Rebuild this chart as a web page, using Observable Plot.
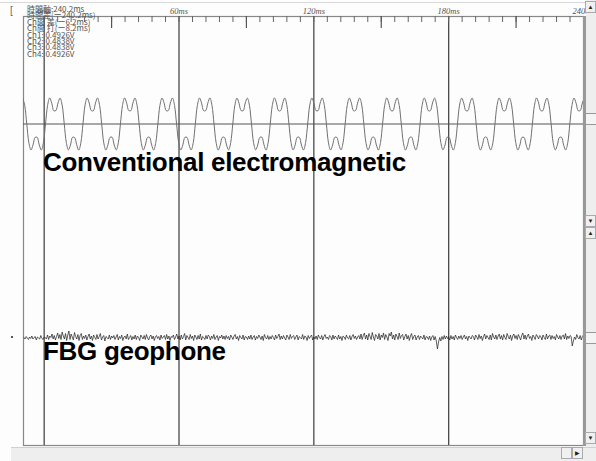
<!DOCTYPE html>
<html>
<head>
<meta charset="utf-8">
<script src="https://cdn.jsdelivr.net/npm/d3@7"></script>
<script src="https://cdn.jsdelivr.net/npm/@observablehq/plot@0.6"></script>
<style>
  html, body { margin: 0; padding: 0; background: #fdfdfd; }
  #wrap { position: relative; width: 596px; height: 461px; overflow: hidden; background: #fdfdfd; font-family: "Liberation Sans", Arial, sans-serif; }
  #wrap svg { position: absolute; left: 0; top: 0; }
  .ov { position: absolute; }
  .big { font-weight: bold; font-size: 26px; line-height: 26px; color: #000; white-space: nowrap; letter-spacing: -0.3px; }
  #info { left: 27px; top: 6px; font-family: "Noto Sans CJK JP", "DejaVu Sans", sans-serif; font-size: 8px; line-height: 6.4px; color: #555; white-space: pre; }
  .btn { position: absolute; width: 9px; height: 10px; background: #f0f0f0; border: 1px solid #aaa; font-size: 6px; line-height: 10px; text-align: center; color: #222; }
</style>
</head>
<body>
<div id="wrap"></div>
<script>
// ---- data ----
const timeDomain = [-9.2, 240];            // ms
const majorTicks = [0, 60, 120, 180, 240];
const gridTimes = [0, 60, 120, 180];
const midTicks = [30, 90, 150, 210];
const minorTicks = d3.range(0, 241, 6);
const channelNames = ["Conventional electromagnetic", "FBG geophone"];
const channelOffsets = [2.14, -2.14];      // V, vertical position of each trace

// Conventional electromagnetic trace (mV), sampled every 0.9259 ms from -9.59 ms
const convStart = -9.59;
const convStep = 0.9259;
const convValues = [
  520, 374, 0, -374, -520, -418, -267, -267, -418, -520, -374,
  0, 372, 522, 416, 265, 270, 420, 518, 376, 4, -370, -518, -420, -265, -270, -416, -522, -372,
  2, 376, 519, 420, 268, 264, 417, 521, 372, -2, -376, -521, -416, -268, -264, -420, -518, -376,
  -2, 370, 523, 417, 270, 266, 419, 519, 375, 2, -372, -519, -419, -270, -266, -417, -521, -370,
  0, 374, 520, 418, 267, 268, 418, 520, 374, 0, -374, -520, -418, -267, -268, -418, -520, -374,
  3, 373, 521, 419, 266, 269, 416, 522, 373, -3, -373, -522, -417, -266, -269, -419, -519, -373,
  -1, 375, 518, 416, 269, 265, 420, 517, 376, 1, -375, -517, -420, -269, -265, -416, -523, -375,
  1, 371, 522, 420, 264, 268, 417, 520, 371, -1, -371, -520, -417, -264, -268, -420, -520, -371,
  0, 376, 520, 417, 268, 267, 419, 521, 374, 2, -376, -521, -419, -268, -267, -417, -518, -376,
  -2, 372, 519, 418, 266, 270, 418, 519, 377, -2, -372, -519, -418, -266, -270, -418, -521, -372,
  2, 374, 523, 416, 270, 264, 416, 522, 372, 0, -374, -522, -416, -270, -264, -416, -520, -374,
  0, 373, 520, 420, 265, 268, 420, 518, 375, 3, -373, -518, -420, -265, -268, -420, -522, -373,
  1, 377, 518, 417, 268, 266, 417, 520, 373, -1, -377, -520, -417, -268, -266, -417, -519, -377,
  -1, 371, 521, 419, 267, 269, 419, 521, 376, 1, -371, -521, -419, -267, -269, -419, -521, -371,
  0, 375, 522, 418, 269, 265, 418, 519, 374, 0, -375, -519, -418, -269, -265, -418, -520, -375,
  2, 372, 520, 417, 266, 268, 419, 520
];

// FBG geophone trace (units of 10 mV), sampled every 0.5 ms from -9 ms
const fbgStart = -9;
const fbgStep = 0.5;
const fbgValues = [
  1,-2,3,0,-3,2,-1,4,-2,1,3,-4,2,0,-2,5,-1,-3,2,1,
  -2,6,-3,4,1,8,-2,5,-4,3,10,-1,7,-3,12,4,-2,9,-5,6,
  14,-3,8,2,-4,11,3,-2,7,-5,5,9,-3,4,-1,6,-4,3,8,-2,
  4,-5,6,1,-3,7,-2,3,9,-4,2,5,-6,3,1,-2,6,-3,4,0,
  5,-3,2,7,-4,3,-1,6,-5,2,4,-2,8,-3,1,5,-4,3,-2,6,
  -3,4,1,-5,6,2,-2,5,-3,7,0,-4,3,6,-2,4,-5,2,5,-1,
  3,-4,6,-1,2,5,-3,7,-2,4,-5,3,1,6,-3,2,8,-2,4,-4,
  6,-2,3,9,-4,5,1,-3,7,-1,4,-5,6,2,-3,5,-2,8,-4,3,
  1,-3,5,-2,6,3,-4,4,-1,7,-3,2,5,-5,3,0,6,-2,4,-3,
  5,-1,3,-4,6,2,-3,4,7,-2,3,-5,5,1,-2,6,-4,3,2,-3,
  4,-2,6,-3,2,5,-4,3,-1,6,2,-3,4,-5,7,1,-2,5,-3,3,
  -2,5,1,-4,6,-1,3,8,-3,4,-2,5,0,-4,6,2,-3,7,-1,3,
  5,-3,2,6,-4,3,1,-2,7,-3,4,2,-5,5,-1,3,6,-4,2,-2,
  4,-3,6,1,-2,5,-4,3,7,-1,2,-3,5,3,-4,6,-2,4,1,-3,
  6,-2,3,-5,4,2,-3,6,0,-2,5,-4,3,7,-1,4,-3,2,5,-2,
  8,-3,5,10,-2,6,-4,9,3,-3,11,2,-5,7,4,-2,9,-4,6,1,
  10,-3,7,2,-5,9,4,12,-2,6,-4,8,3,-3,10,-1,5,7,-4,3,
  8,-2,5,-5,4,9,-3,3,6,-4,2,5,-3,4,1,-2,6,-4,3,2,
  -3,4,-5,2,5,-4,3,-6,-22,-8,1,-6,3,-3,5,-2,4,-1,3,-4,
  5,-2,3,-4,6,1,-3,4,-1,5,-3,2,6,-2,3,-5,4,1,-2,5,
  3,-4,6,2,-3,7,-1,4,-5,3,8,-2,5,1,-3,6,-4,9,2,-2,
  6,-3,4,8,-2,5,-4,7,1,-3,9,3,-2,6,-5,4,8,-1,5,-3,
  7,2,-4,5,10,-2,6,-3,4,8,-1,3,-5,6,2,-3,7,4,-2,5,
  3,-4,6,1,-3,8,-2,4,6,-3,5,-1,3,-4,7,2,-2,5,-3,4,
  6,-2,9,-3,4,-1,5,3,-16,-6,2,-3,7,1,-2,5,-4,3,6,-2
];

const infoLines = [
  "時間軸:240.2ms",
  "時間差(ー240.2ms)",
  "Ch間 差(ー6.2ms)",
  "Ch間 打(ー8.2ms)",
  "Ch1: 0.4926V",
  "Ch2: 0.4838V",
  "Ch3: 0.4838V",
  "Ch4: 0.4926V"
];

// ---- build tables ----
const ch1 = convValues.map((v, i) => ({t: convStart + i * convStep, y: channelOffsets[0] + v / 1000}));
const ch2 = fbgValues.map((v, i) => ({t: fbgStart + i * fbgStep, y: channelOffsets[1] + v / 100}));

const W = 596, H = 461;
const chart = Plot.plot({
  width: W, height: H,
  marginTop: 16, marginLeft: 23, marginRight: 13, marginBottom: 16,
  x: {domain: timeDomain},
  y: {domain: [-4.29, 4.29], axis: null},
  style: {background: "transparent", fontFamily: "'Liberation Serif', serif", overflow: "visible"},
  marks: [
    Plot.frame({stroke: "#888", strokeWidth: 1.2}),
    Plot.ruleX(gridTimes, {stroke: "#4a4a4a", strokeWidth: 1.3}),
    Plot.ruleY([channelOffsets[0]], {stroke: "#555", strokeWidth: 1}),
    Plot.ruleX(minorTicks, {stroke: "#666", strokeWidth: 1, insetBottom: H - 16 - 16 - 6}),
    Plot.ruleX(midTicks, {stroke: "#555", strokeWidth: 1.2, insetBottom: H - 16 - 16 - 12}),
    Plot.axisX({anchor: "top", ticks: majorTicks, tickSize: 0, tickPadding: 3, label: null,
      tickFormat: d => d + "ms", fontSize: 8.5, fontStyle: "italic", fill: "#555"}),
    Plot.line(ch1, {x: "t", y: "y", curve: "catmull-rom", stroke: "#707070", strokeWidth: 1, clip: true}),
    Plot.line(ch2, {x: "t", y: "y", stroke: "#2a2a2a", strokeWidth: 0.75, clip: true})
  ]
});

const wrap = document.getElementById("wrap");
wrap.appendChild(chart);

function ov(html, css, cls) {
  const d = document.createElement("div");
  d.className = "ov" + (cls ? " " + cls : "");
  d.innerHTML = html;
  Object.assign(d.style, css);
  wrap.appendChild(d);
  return d;
}

// info block
const info = ov(infoLines.join("\n"), {}, "");
info.id = "info";

// channel labels
ov(channelNames[0], {left: "43px", top: "149px"}, "big");
ov(channelNames[1], {left: "43px", top: "338px"}, "big");

// window chrome
ov("", {left: "0px", top: "2px", width: W + "px", height: "1px", background: "#d8d8d8"});
ov("[", {left: "10px", top: "5px", fontSize: "10px", color: "#666"});
ov("", {left: "583px", top: "16px", width: "3px", height: "430px", background: "#999"});
ov("", {left: "586px", top: "0px", width: "10px", height: "461px", background: "#eeeeee"});
ov("", {left: "11px", top: "447px", width: "585px", height: "14px", background: "#eeeeee", borderTop: "1px solid #d0d0d0"});
ov("", {left: "585px", top: "113px", width: "10px", height: "10px", border: "1px solid #999", background: "#f4f4f4"});
ov("", {left: "585px", top: "332px", width: "10px", height: "10px", border: "1px solid #999", background: "#f4f4f4"});
ov("", {left: "11px", top: "336px", width: "2px", height: "2px", background: "#555"});
ov("▲", {left: "585px", top: "1px"}, "btn");
ov("▼", {left: "585px", top: "215px"}, "btn");
ov("▲", {left: "585px", top: "227px"}, "btn");
ov("▼", {left: "585px", top: "432px"}, "btn");
ov("", {left: "561px", top: "447px", width: "9px", height: "10px"}, "btn");
ov("▶", {left: "572px", top: "447px"}, "btn");
</script>
</body>
</html>
